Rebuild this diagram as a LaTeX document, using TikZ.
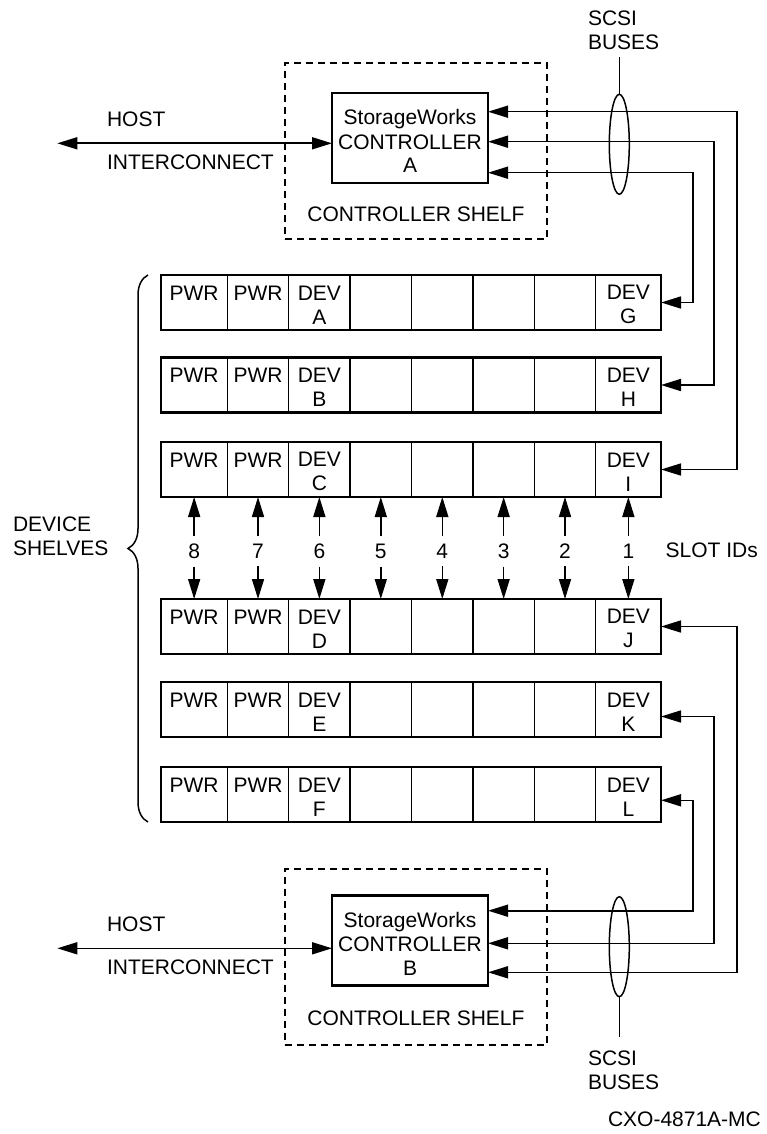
\documentclass[tikz,border=0pt]{standalone}
\usepackage{fontspec}
\setmainfont{Liberation Sans}
\usetikzlibrary{arrows.meta,positioning,shapes.geometric,decorations.pathreplacing}

\begin{document}
\begin{tikzpicture}[
  x=1pt, y=-1pt,
  every node/.style={font=\fontsize{21}{24}\selectfont, outer sep=0pt},
  cell/.style={rectangle, draw, line width=1.3pt, minimum height=55pt, inner sep=0pt, align=center},
  shelfframe/.style={line width=2.8pt},
  ctl/.style={rectangle, draw, line width=2.6pt, minimum width=156pt, minimum height=90pt,
              inner sep=0pt, align=center},
  ctlshelf/.style={rectangle, draw, line width=2.3pt, dash pattern=on 7pt off 5pt,
                   minimum width=262pt, minimum height=176pt},
  ring/.style={ellipse, draw, line width=1.5pt, minimum width=20pt, minimum height=100pt, inner sep=0pt},
  lbl/.style={inner sep=0pt},
  slot/.style={inner xsep=0pt, inner ysep=8pt},
  wire/.style={line width=1.5pt},
  arr/.style={-{Triangle[length=20pt,width=12pt]}, line width=1.6pt},
  biarr/.style={{Triangle[length=20pt,width=12pt]}-{Triangle[length=20pt,width=12pt]}, line width=1.6pt}
]
\useasboundingbox (0,0) rectangle (767,1134);

% device shelves
\foreach \sh/\ty/\dl/\dr in {A/275/A/G, B/357.5/B/H, C/442/C/I, D/599/D/J, E/682/E/K, F/767/F/L}{
  \foreach \k/\xl/\xr/\ta/\tb in {1/161/227.3/PWR/{}, 2/227.3/288.7/PWR/{}, 3/288.7/350/DEV/\dl,
      4/350/411.6/{}/{}, 5/411.6/473/{}/{}, 6/473/534.3/{}/{}, 7/534.3/595.7/{}/{}, 8/595.7/661/DEV/\dr}
    \node[cell, minimum width={\xr-\xl}] (s\sh-\k) at ({(\xl+\xr)/2},{\ty+27.5})
      {\rule{0pt}{19pt}\ta\\\tb\rule{0pt}{1pt}};
  \draw[shelfframe] (s\sh-1.north west) rectangle (s\sh-8.south east);
}

% controller shelves
\node[ctlshelf] (shelfA) at (416,151) {};
\node[ctl] (ctlA) at (410,138) {\rule{0pt}{22pt}StorageWorks\\CONTROLLER\\A};
\node[lbl, anchor=base] (shelfAtxt) at ([yshift=17.5pt]shelfA.south) {CONTROLLER SHELF};

\node[ctlshelf] (shelfB) at (416,956.7) {};
\node[ctl] (ctlB) at (410,940.5) {\rule{0pt}{22pt}StorageWorks\\CONTROLLER\\B};
\node[lbl, anchor=base] (shelfBtxt) at ([yshift=19pt]shelfB.south) {CONTROLLER SHELF};

% host interconnect
\coordinate (hostA) at (57.3,143.3);
\draw[biarr] (hostA) -- ([yshift=-5.3pt]ctlA.west);
\node[lbl, anchor=base west] (hostAtop) at (107,126.7) {HOST};
\node[lbl, anchor=base west] (hostAbot) at (107,169.3) {INTERCONNECT};

\coordinate (hostB) at (57.3,948.3);
\draw[biarr] (hostB) -- ([yshift=-7.8pt]ctlB.west);
\node[lbl, anchor=base west] (hostBtop) at (107,931.7) {HOST};
\node[lbl, anchor=base west] (hostBbot) at (107,974.3) {INTERCONNECT};

% scsi buses
\draw[biarr] ([yshift=26.3pt]ctlA.east) -| ([xshift=76pt]sC-8.east) -- (sC-8.east);
\draw[biarr] ([yshift=-3.7pt]ctlA.east) -| ([xshift=53pt]sB-8.east) -- (sB-8.east);
\draw[biarr] ([yshift=-34.7pt]ctlA.east) -| ([xshift=32pt]sA-8.east) -- (sA-8.east);

\draw[biarr] ([yshift=29.8pt]ctlB.east) -| ([xshift=32pt,yshift=-5.8pt]sF-8.east) -- ([yshift=-5.8pt]sF-8.east);
\draw[biarr] ([yshift=-2.8pt]ctlB.east) -| ([xshift=53pt,yshift=-7pt]sE-8.east) -- ([yshift=-7pt]sE-8.east);
\draw[biarr] ([yshift=-31.8pt]ctlB.east) -| ([xshift=76pt]sD-8.east) -- (sD-8.east);

\node[ring] (ringA) at (619.3,144.3) {};
\node[lbl, align=left, anchor=north west] (scsiA) at (588,10.7) {SCSI\\BUSES};
\draw[wire, shorten >=7pt] (ringA.north) -- (ringA.north |- scsiA.south);

\node[ring] (ringB) at (619.3,946.7) {};
\node[lbl, align=left, anchor=north west] (scsiB) at (588,1050.7) {SCSI\\BUSES};
\draw[wire, shorten >=14pt] (ringB.south) -- (ringB.south |- scsiB.north);

% slot ids
\coordinate (slotrow) at (0,558.3);
\foreach \k/\lab in {1/8,2/7,3/6,4/5,5/4,6/3,7/2,8/1}{
  \node[slot, anchor=base] (n\k) at (sC-\k.south |- slotrow) {\lab};
  \draw[arr] (n\k.north) -- (sC-\k.south);
  \draw[arr] (n\k.south) -- (sD-\k.north);
}
\node[lbl, anchor=base west] (slotids) at (665.7,557.3) {SLOT IDs};

% brace
\draw[wire, decorate, decoration={brace, amplitude=20pt}]
  ([xshift=-13pt]sF-1.south west) -- ([xshift=-13pt]sA-1.north west);
\node[lbl, align=left, anchor=north west] (devshelves) at (13,517) {DEVICE\\SHELVES};

\node[lbl, anchor=base west] (figid) at (608,1126.5) {CXO-4871A-MC};

\end{tikzpicture}
\end{document}
